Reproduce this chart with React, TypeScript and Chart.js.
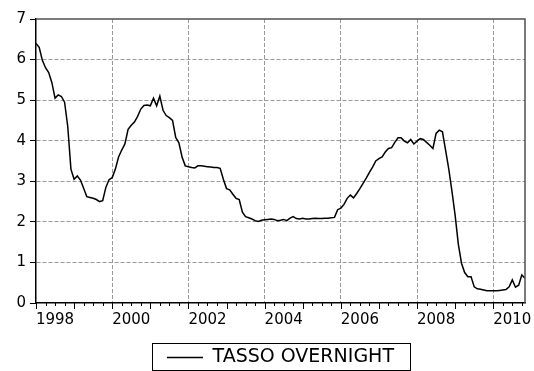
import React, { useEffect, useRef } from 'react';
import { Chart, registerables } from 'chart.js';

Chart.register(...registerables);

const seriesLabel = 'TASSO OVERNIGHT';
// Monthly observations, starting January 1998
const overnightRate = [
  6.40, 6.30, 5.98, 5.80, 5.68, 5.43, 5.05, 5.13, 5.09, 4.95, 4.35, 3.30,
  3.05, 3.13, 3.03, 2.83, 2.62, 2.60, 2.58, 2.55, 2.50, 2.52, 2.85, 3.04,
  3.09, 3.30, 3.60, 3.77, 3.92, 4.28, 4.38, 4.46, 4.60, 4.78, 4.87, 4.88,
  4.86, 5.05, 4.86, 5.10, 4.75, 4.62, 4.57, 4.50, 4.08, 3.95, 3.60, 3.38,
  3.36, 3.34, 3.33, 3.38, 3.38, 3.37, 3.36, 3.35, 3.34, 3.34, 3.32, 3.05,
  2.82, 2.79, 2.68, 2.58, 2.55, 2.24, 2.13, 2.10, 2.07, 2.03, 2.01, 2.04,
  2.05, 2.06, 2.07, 2.06, 2.03, 2.04, 2.06, 2.03, 2.09, 2.13, 2.08, 2.07,
  2.09, 2.07, 2.07, 2.08, 2.09, 2.08, 2.08, 2.09, 2.09, 2.10, 2.11, 2.30,
  2.34, 2.43, 2.58, 2.66, 2.59, 2.70, 2.82, 2.95, 3.08, 3.22, 3.35, 3.50,
  3.56, 3.60, 3.72, 3.81, 3.83, 3.96, 4.07, 4.07, 3.99, 3.95, 4.03, 3.92,
  3.99, 4.05, 4.03, 3.96, 3.89, 3.81, 4.18, 4.26, 4.22, 3.76, 3.30, 2.75,
  2.16, 1.45, 0.98, 0.75, 0.65, 0.65, 0.40, 0.35, 0.34, 0.32, 0.30, 0.30,
  0.30, 0.30, 0.31, 0.32, 0.33, 0.40, 0.57, 0.39, 0.44, 0.69, 0.61,
];
const yearLabels = ['1998', '2000', '2002', '2004', '2006', '2008', '2010'];
const yMin = 0;
const yMax = 7;

const FONT = '"DejaVu Sans", sans-serif';

const framePlugin = {
  id: 'eviewsFrame',
  afterLayout(chart: any) {
    const lg = chart.legend;
    if (lg) {
      lg.left = chart.chartArea.left;
      lg.right = chart.chartArea.right;
    }
  },
  afterDraw(chart: any) {
    const { ctx, chartArea } = chart;
    const xs = chart.scales.x;
    ctx.save();
    // top and right frame
    ctx.strokeStyle = '#505050';
    ctx.lineWidth = 1.5;
    ctx.beginPath();
    ctx.moveTo(chartArea.left, chartArea.top);
    ctx.lineTo(chartArea.right, chartArea.top);
    ctx.lineTo(chartArea.right, chartArea.bottom);
    ctx.stroke();
    // x tick marks (quarterly minor, yearly major)
    ctx.strokeStyle = '#000';
    ctx.lineWidth = 1;
    for (let v = 0; v <= overnightRate.length - 1; v += 3) {
      const px = Math.round(xs.getPixelForValue(v)) + 0.5;
      const len = v % 12 === 0 ? 6 : 3;
      ctx.beginPath();
      ctx.moveTo(px, chartArea.bottom);
      ctx.lineTo(px, chartArea.bottom + len);
      ctx.stroke();
    }
    // legend frame
    const lg = chart.legend;
    if (lg) {
      const fs = 19;
      const cy = lg.top + 10 + fs / 2;
      const cx = (lg.left + lg.right) / 2;
      ctx.strokeStyle = '#000';
      ctx.lineWidth = 1;
      ctx.strokeRect(Math.round(cx - 129) + 0.5, Math.round(cy - 15) + 0.5, 258, 27);
    }
    ctx.restore();
  },
};

export default function App() {
  const ref = useRef<HTMLCanvasElement | null>(null);
  useEffect(() => {
    document.body.style.margin = '0';
    const canvas = ref.current;
    if (!canvas) return;
    const chart = new Chart(canvas, {
      type: 'line',
      data: {
        datasets: [
          {
            label: seriesLabel,
            data: overnightRate.map((v, i) => ({ x: i, y: v })),
            borderColor: '#000',
            backgroundColor: '#000',
            borderWidth: 1.5,
            pointRadius: 0,
            tension: 0,
            fill: false,
          },
        ],
      },
      options: {
        responsive: false,
        animation: false,
        layout: { padding: { left: 0, top: 19, right: 9, bottom: 0 } },
        plugins: {
          tooltip: { enabled: false },
          legend: {
            position: 'bottom',
            maxHeight: 33,
            labels: {
              usePointStyle: true,
              pointStyle: 'line',
              pointStyleWidth: 36,
              color: '#000',
              padding: 10,
              font: { family: FONT, size: 19 },
            },
          },
        },
        scales: {
          x: {
            type: 'linear',
            min: 0,
            max: overnightRate.length - 1,
            afterBuildTicks: (scale: any) => {
              const t = [];
              for (let v = 0; v <= overnightRate.length - 1; v += 3) t.push({ value: v });
              scale.ticks = t;
            },
            afterFit: (scale: any) => {
              scale.height = 35;
            },
            ticks: {
              autoSkip: false,
              maxRotation: 0,
              padding: 2,
              color: '#000',
              font: { family: FONT, size: 15 },
              callback: (value: any) => {
                const v = Number(value);
                if ((v - 6) % 24 === 0) return yearLabels[(v - 6) / 24] ?? '';
                return '';
              },
            },
            grid: {
              drawTicks: true,
              tickLength: 6,
              tickColor: 'transparent',
              color: (c: any) =>
                c.tick && c.tick.value > 0 && c.tick.value % 24 === 0 ? '#9a9a9a' : 'transparent',
              lineWidth: 1,
            },
            border: { display: true, color: '#000', width: 1.5, dash: [4, 2] },
          },
          y: {
            min: yMin,
            max: yMax,
            afterFit: (scale: any) => {
              scale.width = 36;
            },
            ticks: {
              stepSize: 1,
              padding: 4,
              color: '#000',
              font: { family: FONT, size: 15 },
            },
            grid: {
              drawTicks: true,
              tickLength: 6,
              tickColor: '#000',
              color: (c: any) =>
                c.tick && c.tick.value > yMin && c.tick.value < yMax ? '#9a9a9a' : 'transparent',
              lineWidth: 1,
            },
            border: { display: true, color: '#000', width: 1.5, dash: [4, 2] },
          },
        },
      },
      plugins: [framePlugin],
    });
    return () => chart.destroy();
  }, []);
  return (
    <div style={{ width: 534, height: 371, background: '#fff' }}>
      <canvas ref={ref} width={534} height={371} />
    </div>
  );
}
